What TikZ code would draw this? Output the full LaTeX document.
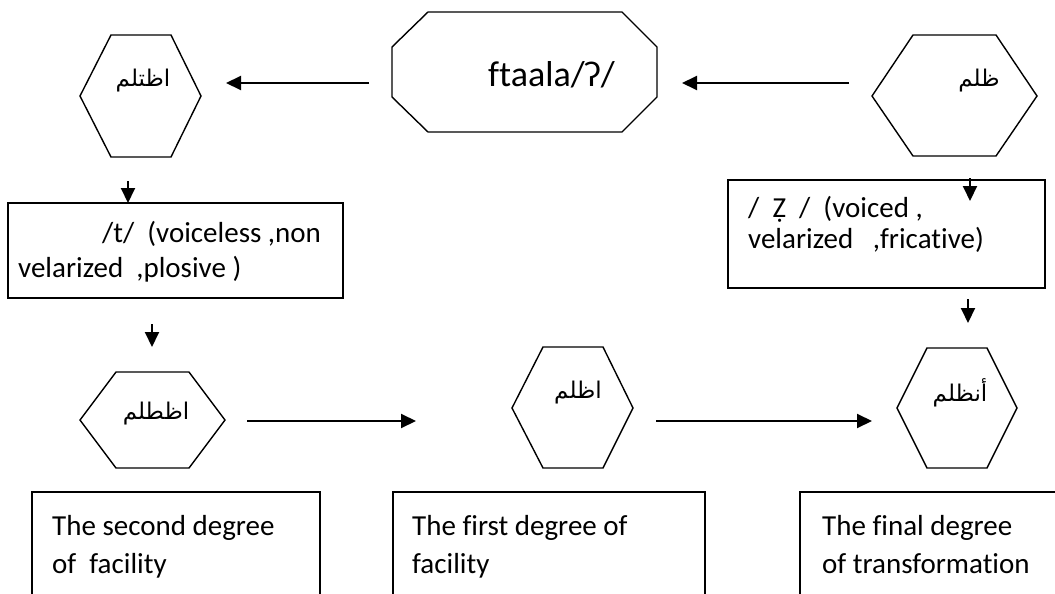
\documentclass[tikz,border=0pt]{standalone}
\usepackage{fontspec}
\setmainfont{Carlito}[Ligatures=NoCommon]
\newfontfamily\arabicfont[Script=Arabic]{DejaVu Sans}
\TeXXeTstate=1
\usetikzlibrary{arrows.meta}
\begin{document}
\begin{tikzpicture}[x=1pt,y=-1pt,
  shapeline/.style={draw, line width=1.4pt, line join=miter},
  arr/.style={line width=2pt, -{Triangle[length=15pt,width=14pt]}},
  lbl/.style={anchor=base west, inner sep=0pt, font=\fontsize{29}{35}\selectfont},
  ar/.style={inner sep=0pt, font=\arabicfont\fontsize{23}{27}\selectfont}]
\useasboundingbox (0,0) rectangle (1055,594);
\fill[white] (0,0) rectangle (1055,594);
\clip (0,0) rectangle (1055,594);

% shapes
\draw[shapeline] (80,96) -- (111,35) -- (171,35) -- (201,96) -- (171,157) -- (111,157) -- cycle;
\draw[shapeline] (872,96) -- (913,35) -- (996,35) -- (1037,96) -- (996,156) -- (913,156) -- cycle;
\draw[shapeline] (80,420) -- (116,372) -- (189,372) -- (225,420) -- (189,468) -- (116,468) -- cycle;
\draw[shapeline] (512,408) -- (543,347) -- (603,347) -- (633,408) -- (603,468) -- (543,468) -- cycle;
\draw[shapeline] (897,408) -- (927,348) -- (987,348) -- (1017,408) -- (987,468) -- (927,468) -- cycle;
\draw[shapeline] (392,47) -- (428,12) -- (622,12) -- (657,47) -- (657,97) -- (622,132) -- (428,132) -- (392,97) -- cycle;

\draw[shapeline] (8,203) rectangle (343,298);
\draw[shapeline] (728,180) rectangle (1045,288);
\draw[shapeline] (32,620) -- (32,492) -- (320,492) -- (320,620);
\draw[shapeline] (393,620) -- (393,492) -- (705,492) -- (705,620);
\draw[shapeline] (800,620) -- (800,492) -- (1070,492);

% texts
\node[ar] (t1) at (143,81) {\beginR اظتلم\endR};
\node[ar] (t2) at (979,81) {\beginR ظلم\endR};
\node[ar] (t3) at (156,414) {\beginR اظطلم\endR};
\node[ar] (t4) at (578,393) {\beginR اظلم\endR};
\node[ar] (t5) at (960,393) {\beginR أنظلم\endR};
\node[lbl, font=\fontsize{36}{40}\selectfont] (oct) at (488,87) {ftaala/ʔ/};

\node[lbl] (b1a) at (102,242) {/t/\ \ (voiceless ,non};
\node[lbl] (b1b) at (18,277) {velarized\ \ ,plosive )};
\node[lbl] (b2a) at (748,217) {/\ \ Ẓ\ \ /\ \ (voiced ,};
\node[lbl] (b2b) at (748,248) {velarized\ \ \ ,fricative)};
\node[lbl] (b3a) at (52,535) {The second degree};
\node[lbl] (b3b) at (52,573) {of\ \ facility};
\node[lbl] (b4a) at (412,535) {The first degree of};
\node[lbl] (b4b) at (412,573) {facility};
\node[lbl] (b5a) at (822,535) {The final degree};
\node[lbl] (b5b) at (822,573) {of transformation};

% connectors
\coordinate (a1s) at (369,83); \coordinate (a1e) at (226,83);
\coordinate (a2s) at (849,83); \coordinate (a2e) at (682,83);
\coordinate (a3s) at (128,181); \coordinate (a3e) at (128,203);
\coordinate (a4s) at (152,324); \coordinate (a4e) at (152,347);
\coordinate (a5s) at (970,178); \coordinate (a5e) at (970,201);
\coordinate (a6s) at (968,299); \coordinate (a6e) at (968,323);
\coordinate (a7s) at (247,421); \coordinate (a7e) at (416,421);
\coordinate (a8s) at (656,421); \coordinate (a8e) at (872,421);
\draw[arr] (a1s) -- (a1e);
\draw[arr] (a2s) -- (a2e);
\draw[arr] (a3s) -- (a3e);
\draw[arr] (a4s) -- (a4e);
\draw[arr] (a5s) -- (a5e);
\draw[arr] (a6s) -- (a6e);
\draw[arr] (a7s) -- (a7e);
\draw[arr] (a8s) -- (a8e);
\end{tikzpicture}
\end{document}
